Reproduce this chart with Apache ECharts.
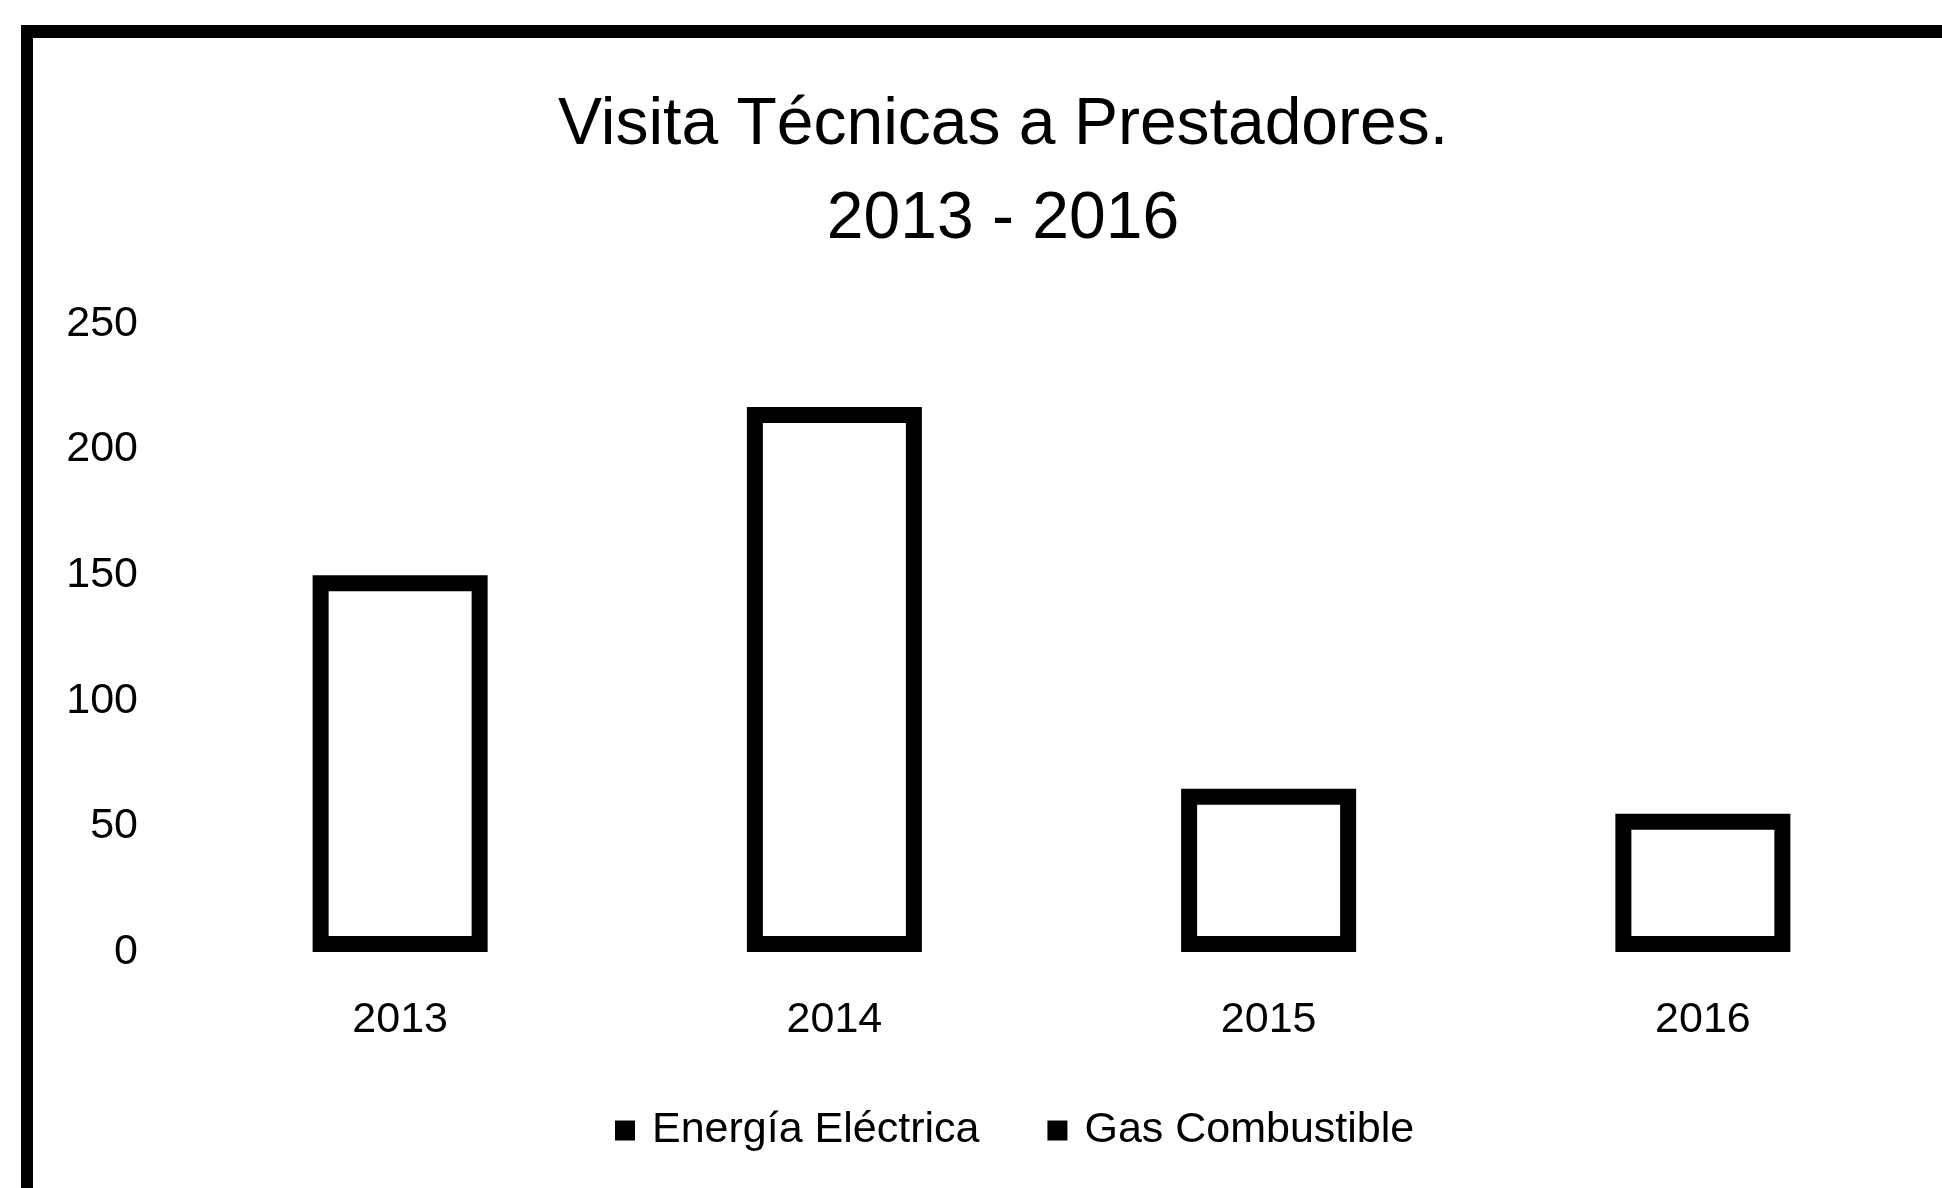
<!DOCTYPE html>
<html>
<head>
<meta charset="utf-8">
<title>Visita Técnicas a Prestadores</title>
<script src="https://cdn.jsdelivr.net/npm/echarts@6/dist/echarts.min.js"></script>
<style>
    html, body {margin:0; padding:0; background:#fff; overflow:hidden;}
    #marco {position:absolute; left:21px; top:25px; width:1940px; height:1180px;
        border-top:13px solid #000; border-left:12px solid #000;}
    #grafico {position:absolute; left:0; top:0; width:1942px; height:1188px;}
</style>
</head>
<body>
<div id="marco"></div>
<div id="grafico"></div>
<script>
// datos
var anios = ['2013', '2014', '2015', '2016'];
var energiaElectrica = [150, 217, 65, 55];
var gasCombustible = [0, 0, 0, 0];
var leyenda = ['Energía Eléctrica', 'Gas Combustible'];
var titulo = 'Visita Técnicas a Prestadores.\n2013 - 2016';

var fuente = "'Liberation Sans', Arial, sans-serif";

/**
 * barras con borde grueso (una sola serie visible)
 */
function visitasChart(id, title, legend, xAxisData, seriesAName, seriesAData, seriesBName, seriesBData){
    var option = {
        animation: false,
        title : {
            text: title,
            left: 1003,
            top: 79,
            padding: 0,
            textAlign: 'center',
            textStyle: {
                fontFamily: fuente,
                fontSize: 66,
                fontWeight: 'normal',
                color: '#000',
                lineHeight: 94
            }
        },
        legend: {
            data: legend,
            left: 610,
            top: 1104,
            itemWidth: 20,
            itemHeight: 20,
            itemGap: 68,
            icon: 'rect',
            itemStyle: {color: '#000', borderWidth: 0},
            textStyle: {
                fontFamily: fuente,
                fontSize: 43,
                color: '#000',
                padding: [0, 0, 0, 12]
            }
        },
        grid: {
            left: 183,
            right: 22,
            top: 324,
            bottom: 236
        },
        xAxis : [
            {
                type : 'category',
                data : xAxisData,
                axisLine: {show: false},
                axisTick: {show: false},
                axisLabel: {
                    margin: 47,
                    fontFamily: fuente,
                    fontSize: 43,
                    color: '#000'
                }
            }
        ],
        yAxis : [
            {
                type : 'value',
                min: 0,
                max: 250,
                interval: 50,
                axisLine: {show: false},
                axisTick: {show: false},
                splitLine: {show: false},
                axisLabel: {
                    margin: 45,
                    fontFamily: fuente,
                    fontSize: 43,
                    color: '#000',
                    padding: [34, 0, 0, 0]
                }
            }
        ],
        series : [
            {
                name: seriesAName,
                type: 'bar',
                barWidth: 175,
                barGap: '-100%',
                itemStyle: {
                    color: '#fff',
                    borderColor: '#000',
                    borderWidth: 16
                },
                data: seriesAData
            },
            {
                name: seriesBName,
                type: 'bar',
                barWidth: 175,
                itemStyle: {
                    color: '#000',
                    borderWidth: 0
                },
                data: seriesBData
            }
        ]
    };
    var chart = echarts.init(document.getElementById(id));
    chart.setOption(option);
    return chart;
}

visitasChart('grafico', titulo, leyenda, anios, leyenda[0], energiaElectrica, leyenda[1], gasCombustible);
</script>
</body>
</html>
